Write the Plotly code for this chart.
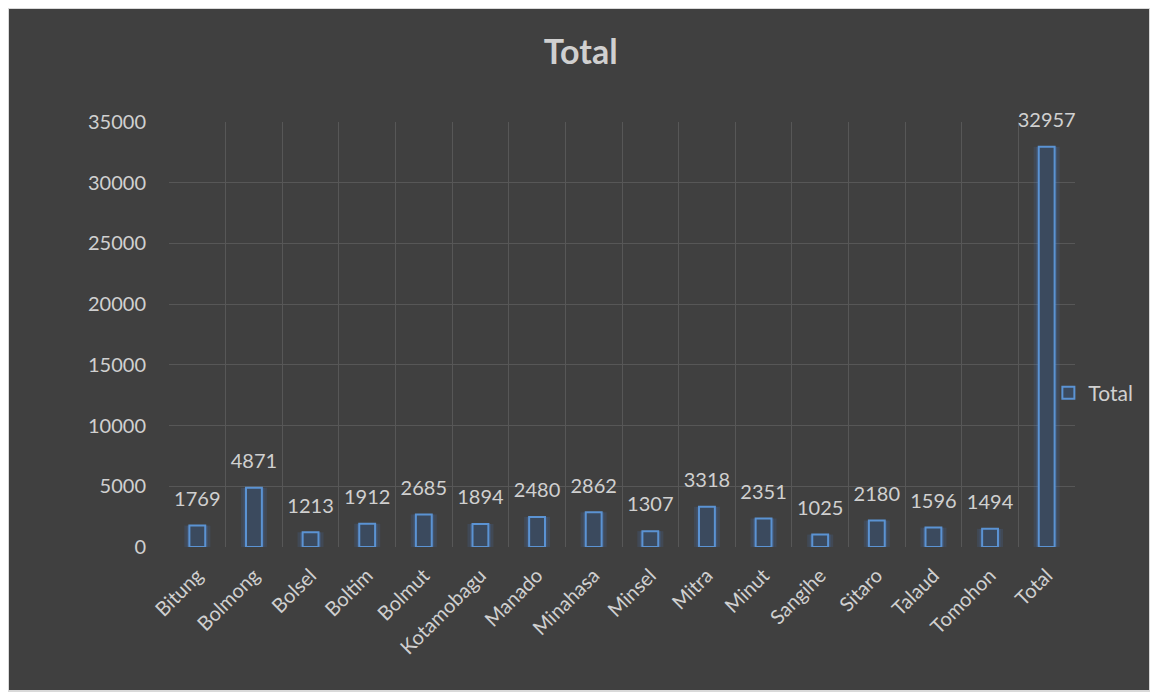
import plotly.graph_objects as go

# Data
regions = [
    "Bitung", "Bolmong", "Bolsel", "Boltim", "Bolmut", "Kotamobagu",
    "Manado", "Minahasa", "Minsel", "Mitra", "Minut", "Sangihe",
    "Sitaro", "Talaud", "Tomohon", "Total",
]
totals = [1769, 4871, 1213, 1912, 2685, 1894, 2480, 2862, 1307,
          3318, 2351, 1025, 2180, 1596, 1494, 32957]
y_ticks = [0, 5000, 10000, 15000, 20000, 25000, 30000, 35000]

FONT = "Lato, 'Open Sans', sans-serif"
TEXT_COLOR = "#d0d0d0"
GRID = "#575757"
BG = "#404040"

fig = go.Figure()

# soft glow behind each bar
fig.add_trace(
    go.Bar(
        x=regions,
        y=totals,
        width=0.46,
        marker=dict(color="rgba(70,130,210,0.14)", line=dict(width=0)),
        showlegend=False,
        hoverinfo="skip",
    )
)
fig.add_trace(
    go.Bar(
        x=regions,
        y=totals,
        width=0.37,
        marker=dict(color="rgba(70,130,210,0.18)", line=dict(width=0)),
        showlegend=False,
        hoverinfo="skip",
    )
)
fig.add_trace(
    go.Bar(
        name="Total",
        x=regions,
        y=totals,
        width=0.28,
        marker=dict(color="#3b4a5e", line=dict(color="#5b93d3", width=2)),
    )
)

# value labels: invisible markers push the text a little above each bar
fig.add_trace(
    go.Scatter(
        x=regions,
        y=totals,
        mode="markers+text",
        marker=dict(size=22, color="rgba(0,0,0,0)"),
        text=[str(v) for v in totals],
        textposition="top center",
        textfont=dict(family=FONT, size=20, color=TEXT_COLOR),
        cliponaxis=False,
        showlegend=False,
        hoverinfo="skip",
    )
)

# dark chart frame (the page around it stays white)
fig.add_shape(
    type="rect",
    xref="paper",
    yref="paper",
    x0=-0.1777,
    x1=1.0828,
    y0=-0.3388,
    y1=1.2682,
    fillcolor=BG,
    line=dict(color="#d9d9d9", width=2),
    layer="below",
)

fig.update_layout(
    width=1150,
    height=691,
    paper_bgcolor="white",
    plot_bgcolor="rgba(0,0,0,0)",
    barmode="overlay",
    margin=dict(l=161, r=83, t=114, b=152),
    title=dict(
        text="<b>Total</b>",
        x=0.498,
        xref="container",
        xanchor="center",
        y=0.936,
        yref="container",
        yanchor="middle",
        font=dict(family=FONT, size=34, color=TEXT_COLOR),
    ),
    legend=dict(
        x=0.9706,
        y=0.362,
        xanchor="left",
        yanchor="middle",
        bgcolor="rgba(0,0,0,0)",
        font=dict(family=FONT, size=21, color=TEXT_COLOR),
        itemwidth=30,
    ),
)

fig.update_xaxes(
    type="category",
    range=[-0.5, len(regions) - 0.5],
    tickson="boundaries",
    showgrid=True,
    gridcolor=GRID,
    gridwidth=1,
    showline=False,
    zeroline=False,
    ticks="",
    tickangle=-45,
    tickfont=dict(family=FONT, size=20, color=TEXT_COLOR),
    ticklabelstandoff=12,
)
fig.update_yaxes(
    range=[0, 35000],
    tickvals=y_ticks,
    tickformat="d",
    showgrid=True,
    gridcolor=GRID,
    gridwidth=1,
    zeroline=False,
    showline=False,
    ticks="",
    tickfont=dict(family=FONT, size=20, color=TEXT_COLOR),
    ticklabelstandoff=22,
)

fig.write_html("out.html")
